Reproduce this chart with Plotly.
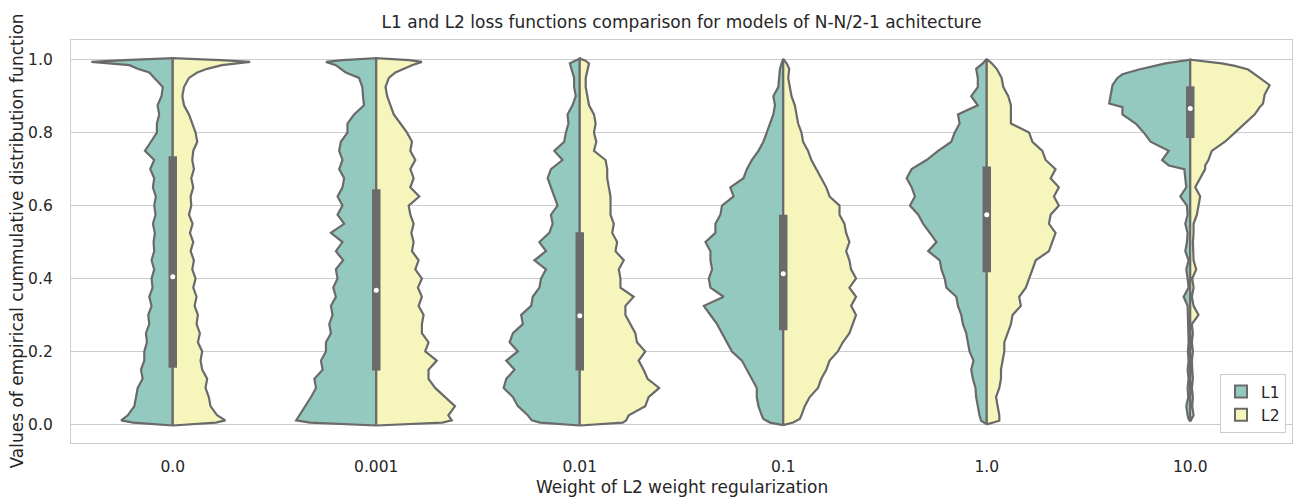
import plotly.graph_objects as go

# ---------------- data ----------------
categories = ["0.0", "0.001", "0.01", "0.1", "1.0", "10.0"]
series_names = ["L1", "L2"]

# shared interior grid of y evaluation levels
GRID = [0.025, 0.05, 0.075, 0.1, 0.125, 0.15, 0.175, 0.2, 0.225, 0.25,
        0.275, 0.3, 0.325, 0.35, 0.375, 0.4, 0.425, 0.45, 0.475, 0.5,
        0.525, 0.55, 0.575, 0.6, 0.625, 0.65, 0.675, 0.7, 0.725, 0.75,
        0.775, 0.8, 0.825, 0.85, 0.875, 0.9, 0.925, 0.95]

# y levels for each category's density profile
y_0 = [-0.003, 0.005, 0.011] + GRID + [0.965, 0.975, 0.985, 0.994, 0.999, 1.004]
y_0001 = [-0.003, 0.005, 0.011] + GRID + [0.965, 0.975, 0.985, 0.994, 0.999, 1.004]
y_001 = [-0.003, 0.005, 0.011] + GRID + [0.975, 0.99, 0.998, 1.003]
y_01 = [-0.002, 0.005, 0.015] + GRID + [0.975, 0.99, 1.002]
y_1 = [0.0, 0.01] + GRID + [0.975, 0.99, 1.002]
y_10 = [0.008, 0.015, 0.025, 0.05, 0.075, 0.1, 0.125, 0.15, 0.175, 0.2, 0.225, 0.25,
        0.275, 0.3, 0.325, 0.35, 0.375, 0.4, 0.425, 0.45, 0.475, 0.5, 0.525, 0.55,
        0.575, 0.6, 0.625, 0.65, 0.675, 0.7, 0.71, 0.725, 0.75, 0.775, 0.8, 0.825,
        0.85, 0.87, 0.88, 0.905, 0.93, 0.95, 0.96, 0.973, 0.983, 0.99, 1.0]

# estimated kernel density (arbitrary units) for L1 and L2 at those levels
dens_L1_0 = [0, 120, 156,
             136, 116, 111, 106, 91, 96, 86, 86, 78, 81,
             71, 74, 64, 71, 61, 64, 56, 64, 56, 58,
             54, 60, 52, 56, 51, 60, 56, 68, 56, 84,
             66, 48, 48, 41, 46, 34, 30, 56,
             71, 106, 131, 246, 146, 0]
dens_L2_0 = [0, 130, 159,
             134, 114, 109, 99, 104, 89, 84, 89, 76, 82,
             72, 76, 66, 72, 62, 69, 59, 64, 54, 62,
             52, 60, 49, 56, 54, 62, 56, 64, 59, 62,
             74, 69, 59, 49, 34, 29, 34, 49,
             74, 104, 149, 234, 144, 0]

dens_L1_0001 = [0, 200, 242,
                232, 215, 197, 182, 187, 162, 167, 152, 152, 137,
                142, 132, 137, 122, 130, 117, 122, 100, 122, 102,
                137, 97, 117, 102, 117, 102, 97, 112, 102, 112,
                107, 87, 87, 67, 37, 40, 42, 52,
                92, 107, 122, 152, 102, 0]
dens_L2_0001 = [0, 200, 228,
                218, 238, 208, 178, 158, 158, 183, 148, 158, 138,
                138, 143, 128, 138, 126, 138, 118, 128, 108, 113,
                106, 113, 103, 98, 130, 103, 113, 103, 118, 103,
                108, 93, 73, 53, 43, 33, 28, 38,
                58, 83, 108, 138, 100, 0]

dens_L1_001 = [0, 120, 145,
               157, 187, 202, 230, 222, 197, 222, 187, 212, 202,
               172, 177, 147, 142, 122, 117, 102, 137, 102, 122,
               92, 82, 87, 67, 77, 87, 97, 87, 52, 77,
               47, 42, 34, 37, 22, 12, 17, 17,
               24, 30, 12, 0]
dens_L2_001 = [0, 130, 140,
               148, 198, 208, 240, 205, 193, 178, 198, 173, 168,
               153, 138, 138, 163, 123, 123, 118, 133, 108, 113,
               98, 103, 93, 93, 93, 88, 83, 83, 78, 43,
               50, 43, 48, 43, 28, 23, 18, 18,
               23, 28, 16, 0]

dens_L1_01 = [0, 40, 60,
              65, 75, 80, 80, 95, 110, 125, 155, 170, 185,
              200, 220, 240, 180, 220, 225, 215, 220, 220, 235,
              205, 205, 190, 185, 150, 160, 120, 110, 95, 75,
              60, 50, 40, 30, 25, 30, 15, 12,
              10, 5, 0]
dens_L2_01 = [0, 30, 50,
              55, 65, 80, 105, 115, 130, 140, 165, 180, 200,
              210, 220, 205, 220, 200, 220, 205, 200, 190, 200,
              190, 185, 170, 170, 140, 130, 115, 100, 85, 75,
              60, 55, 45, 40, 35, 25, 20, 15,
              18, 10, 0]

dens_L1_1 = [0, 17,
             22, 27, 32, 34, 42, 47, 40, 52, 57, 62,
             72, 77, 87, 92, 122, 127, 137, 142, 177, 152,
             172, 192, 207, 232, 217, 227, 242, 227, 182, 147,
             107, 97, 82, 87, 27, 47, 27, 27,
             32, 12, 0]
dens_L2_1 = [0, 38,
             38, 33, 28, 38, 43, 43, 48, 53, 53, 63,
             73, 78, 103, 98, 118, 128, 138, 148, 188, 198,
             208, 188, 193, 218, 203, 218, 193, 208, 178, 168,
             138, 128, 73, 73, 73, 65, 50, 45,
             30, 15, 0]

dens_L1_10 = [0, 5,
              8, 12, 6, 8, 5, 8, 5, 7, 5, 6,
              5, 7, 8, 20, 5, 8, 12, 5, 15, 10,
              8, 15, 8, 10, 30, 12, 15, 18,
              65, 85, 65, 120, 140, 165, 205, 205, 245, 240, 235, 220, 205, 155, 105, 75, 0]
dens_L2_10 = [0, 5,
              10, 6, 8, 5, 8, 6, 5, 8, 5, 8,
              5, 25, 10, 5, 10, 6, 18, 10, 8, 8,
              10, 10, 20, 25, 30, 15, 30, 45,
              45, 55, 65, 105, 135, 165, 195, 210, 220, 225, 240, 210, 195, 175, 135, 95, 0]

# inner box statistics (pooled L1+L2)
q1_values = [0.155, 0.148, 0.148, 0.258, 0.417, 0.785]
median_values = [0.405, 0.368, 0.298, 0.413, 0.575, 0.866]
q3_values = [0.735, 0.645, 0.527, 0.575, 0.707, 0.927]

y_levels = [y_0, y_0001, y_001, y_01, y_1, y_10]
dens_L1 = [dens_L1_0, dens_L1_0001, dens_L1_001, dens_L1_01, dens_L1_1, dens_L1_10]
dens_L2 = [dens_L2_0, dens_L2_0001, dens_L2_001, dens_L2_01, dens_L2_1, dens_L2_10]

# ---------------- styling ----------------
FILL = {"L1": "#94c9c0", "L2": "#f6f6bc"}
EDGE = "#6a6a6a"
TEXT = "#262626"
FONT = "DejaVu Sans"
HALF_WIDTH = 0.4  # max half width in category units (split violin)

W, H = 1300, 500
ML, MR, MT, MB = 71, 8, 40, 57
PW, PH = W - ML - MR, H - MT - MB

dmax = max(max(max(d) for d in dens_L1), max(max(d) for d in dens_L2))

fig = go.Figure()

for i, cat in enumerate(categories):
    ys = y_levels[i]
    for name, dens, sign in (("L1", dens_L1[i], -1), ("L2", dens_L2[i], 1)):
        xs = [i + sign * HALF_WIDTH * d / dmax for d in dens]
        xs = xs + [xs[0]]
        yy = list(ys) + [ys[0]]
        fig.add_trace(go.Scatter(
            x=xs, y=yy, mode="lines", fill="toself",
            fillcolor=FILL[name], line=dict(color=EDGE, width=2.2),
            name=name, showlegend=False, hoverinfo="skip",
        ))
    fig.add_trace(go.Scatter(
        x=[i, i], y=[q1_values[i], q3_values[i]], mode="lines",
        line=dict(color=EDGE, width=8.5), showlegend=False, hoverinfo="skip",
    ))
    fig.add_trace(go.Scatter(
        x=[i], y=[median_values[i]], mode="markers",
        marker=dict(color="white", size=5, line=dict(width=0)),
        showlegend=False, hoverinfo="skip",
    ))

# legend patches
for name in series_names:
    fig.add_trace(go.Scatter(
        x=[None], y=[None], mode="markers", name=name,
        marker=dict(symbol="square", size=14, color=FILL[name],
                    line=dict(color=EDGE, width=1.5)),
        showlegend=True,
    ))

fig.update_layout(
    width=W, height=H,
    margin=dict(l=ML, r=MR, t=MT, b=MB),
    paper_bgcolor="white", plot_bgcolor="white",
    font=dict(family=FONT, color=TEXT, size=15),
    title=dict(
        text="L1 and L2 loss functions comparison for models of N-N/2-1 achitecture",
        x=0.5, xref="paper", xanchor="center",
        y=1 - 22 / H, yref="container", yanchor="middle",
        font=dict(family=FONT, size=17, color=TEXT),
    ),
    legend=dict(
        x=1 - 6 / PW, y=10 / PH, xanchor="right", yanchor="bottom",
        bgcolor="white", bordercolor="#cccccc", borderwidth=1,
        font=dict(family=FONT, size=15.5, color=TEXT),
        tracegroupgap=0, itemsizing="constant",
    ),
    showlegend=True,
    annotations=[
        dict(text="Weight of L2 weight regularization", xref="paper", yref="paper",
             x=0.5, y=-(487 - (MT + PH)) / PH, xanchor="center", yanchor="middle",
             showarrow=False, font=dict(family=FONT, size=17, color=TEXT)),
        dict(text="Values of empirical cummulative distribution function",
             xref="paper", yref="paper", x=-(ML - 16) / PW, y=0.5,
             xanchor="center", yanchor="middle", textangle=-90,
             showarrow=False, font=dict(family=FONT, size=17, color=TEXT)),
    ],
)

fig.update_xaxes(
    range=[-0.5, 5.5], automargin=False,
    tickmode="array", tickvals=list(range(len(categories))), ticktext=categories,
    showgrid=False, zeroline=False,
    showline=True, mirror=True, linecolor="#cccccc", linewidth=1.25,
    ticks="", ticklabelstandoff=9,
    tickfont=dict(family=FONT, size=15.5, color=TEXT),
)
fig.update_yaxes(
    range=[-0.051, 1.054], automargin=False,
    tickmode="array", tickvals=[0.0, 0.2, 0.4, 0.6, 0.8, 1.0],
    ticktext=["0.0", "0.2", "0.4", "0.6", "0.8", "1.0"],
    showgrid=True, gridcolor="#cccccc", gridwidth=1, zeroline=False,
    showline=True, mirror=True, linecolor="#cccccc", linewidth=1.25,
    ticks="", ticklabelstandoff=14,
    tickfont=dict(family=FONT, size=15.5, color=TEXT),
)

fig.write_html(
    "out.html",
    config={"displayModeBar": False},
    post_script="document.body.style.margin='0';document.body.style.overflow='hidden';",
)
